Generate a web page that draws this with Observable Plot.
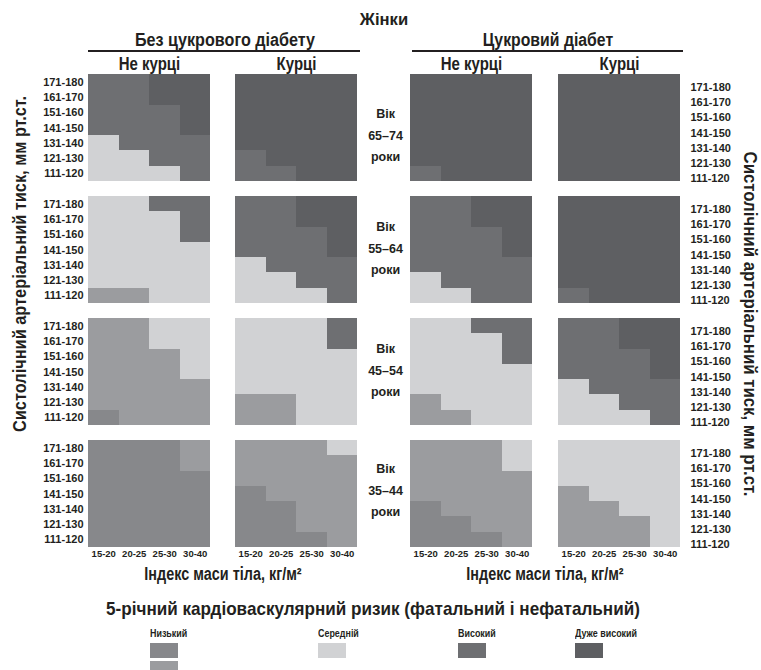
<!DOCTYPE html>
<html><head><meta charset="utf-8">
<script src="https://cdn.jsdelivr.net/npm/d3@7"></script>
<script src="https://cdn.jsdelivr.net/npm/@observablehq/plot@0.6"></script>
<style>
html,body{margin:0;padding:0;background:#fff;}
#root{position:relative;width:761px;height:670px;overflow:hidden;
  font-family:"Liberation Sans",Arial,sans-serif;color:#231f20;}
.abs{position:absolute;white-space:nowrap;line-height:1;}
#root svg{position:absolute;top:0;}
</style></head><body><div id="root"></div>
<script>
const FONT = '"Liberation Sans",Arial,sans-serif';
// ---- data ----
const bmiGroups = ["15-20", "20-25", "25-30", "30-40"];
const sbpGroups = ["171-180", "161-170", "151-160", "141-150", "131-140", "121-130", "111-120"];
const ageGroups = ["65–74", "55–64", "45–54", "35–44"];
const smokingGroups = ["Не курці", "Курці"];
const diabetesGroups = ["Без цукрового діабету", "Цукровий діабет"];
// risk codes: 1 = low (darker), 2 = low (lighter), M = medium, H = high, V = very high
const riskCodes = ["1", "2", "M", "H", "V"];
const riskColors = ["#87888b", "#9b9c9f", "#d1d2d4", "#6e6f72", "#5e5f62"];
const riskLabels = ["Низький", "Середній", "Високий", "Дуже високий"];
const legendTitle = "5-річний кардіоваскулярний ризик (фатальний і нефатальний)";
const sexTitle = "Жінки";
const xTitle = "Індекс маси тіла, кг/м²";
const yTitle = "Систолічний артеріальний тиск, мм рт.ст.";

// each age group: SBP rows top→bottom, one char per BMI column
const noDiabNonSmoker = [
  ["HHVV","HHVV","HHHV","HHHV","MHHH","MMHH","MMMH"],
  ["MMHH","MMMH","MMMH","MMMM","MMMM","MMMM","22MM"],
  ["22MM","22MM","222M","222M","2222","2222","1222"],
  ["1112","1112","1111","1111","1111","1111","1111"]
];
const noDiabSmoker = [
  ["VVVV","VVVV","VVVV","VVVV","VVVV","HVVV","HHVV"],
  ["HHVV","HHVV","HHHV","HHHV","MHHH","MMHH","MMMH"],
  ["MMMH","MMMH","MMMM","MMMM","MMMM","22MM","22MM"],
  ["222M","2222","2222","1222","1122","1122","1112"]
];
const diabNonSmoker = [
  ["VVVV","VVVV","VVVV","VVVV","VVVV","VVVV","HVVV"],
  ["HHVV","HHVV","HHHV","HHHV","HHHH","MHHH","MMHH"],
  ["MMHH","MMMH","MMMH","MMMM","MMMM","2MMM","22MM"],
  ["222M","222M","2222","2222","1222","1122","1112"]
];
const diabSmoker = [
  ["VVVV","VVVV","VVVV","VVVV","VVVV","VVVV","VVVV"],
  ["VVVV","VVVV","VVVV","VVVV","VVVV","VVVV","HVVV"],
  ["HHVV","HHVV","HHHV","HHHV","MHHH","MMHH","MMMH"],
  ["MMMM","MMMM","MMMM","2MMM","22MM","222M","222M"]
];

function toCells(grid, smoke) {
  const out = [];
  grid.forEach((rows, ai) => rows.forEach((s, si) => [...s].forEach((c, bi) =>
    out.push({age: ageGroups[ai], sbp: sbpGroups[si], bmi: bmiGroups[bi], smoke, risk: c}))));
  return out;
}
const cellsNoDiab = [...toCells(noDiabNonSmoker, smokingGroups[0]), ...toCells(noDiabSmoker, smokingGroups[1])];
const cellsDiab = [...toCells(diabNonSmoker, smokingGroups[0]), ...toCells(diabSmoker, smokingGroups[1])];

const root = document.getElementById("root");

function panel({cells, width, marginLeft, marginRight, fxInner, yAnchor, yPad, yDy, extra = []}) {
  return Plot.plot({
    width, height: 578,
    marginTop: 74, marginBottom: 31, marginLeft, marginRight,
    style: {background: "transparent", overflow: "visible", fontFamily: FONT, color: "#231f20"},
    x: {domain: bmiGroups, padding: 0, round: false},
    y: {domain: sbpGroups, padding: 0, round: false},
    fx: {domain: smokingGroups, paddingInner: fxInner, paddingOuter: 0, round: false, axis: null},
    fy: {domain: ageGroups, paddingInner: 0.123, paddingOuter: 0, round: false, axis: null},
    color: {type: "ordinal", domain: riskCodes, range: riskColors},
    marks: [
      Plot.cell(cells, {x: "bmi", y: "sbp", fx: "smoke", fy: "age", fill: "risk", inset: 0,
        shapeRendering: "crispEdges"}),
      Plot.axisX({anchor: "bottom", tickSize: 0, tickPadding: 3, fontSize: 9.5, fontWeight: "bold", label: null}),
      Plot.axisY({anchor: yAnchor, tickSize: 0, tickPadding: yPad, dy: yDy, fontSize: 11, fontWeight: "bold", label: null}),
      Plot.text(smokingGroups, {fx: d => d, fy: () => ageGroups[0], text: d => d, frameAnchor: "top", dy: -18,
        fontSize: 18.5, fontWeight: "bold"}),
      ...extra
    ]
  });
}

const ageText = (data, dy) => Plot.text(data, {fx: () => smokingGroups[1], fy: d => d, text: d => `Вік\n${d}\nроки`,
  frameAnchor: "right", dx: 28, dy, textAnchor: "middle", lineHeight: 1.72, fontSize: 12.5, fontWeight: "bold"});

const left = panel({
  cells: cellsNoDiab, width: 410, marginLeft: 88, marginRight: 53, fxInner: 25 / 147,
  yAnchor: "left", yPad: 5, yDy: 0,
  extra: [ageText(ageGroups.slice(0, 1), 5), ageText(ageGroups.slice(1, 3), -4), ageText(ageGroups.slice(3), -6)]
});
left.style.left = "0px";
root.appendChild(left);

const right = panel({
  cells: cellsDiab, width: 351, marginLeft: 0, marginRight: 81, fxInner: 26 / 148,
  yAnchor: "right", yPad: 10, yDy: 5
});
right.style.left = "410px";
root.appendChild(right);

// condense the smoking-status facet labels (condensed typeface in the original)
for (const svg of [left, right]) {
  for (const t of svg.querySelectorAll("text")) {
    if (smokingGroups.includes(t.textContent)) {
      const w = t.getComputedTextLength();
      t.setAttribute("textLength", (w * 0.81).toFixed(1));
      t.setAttribute("lengthAdjust", "spacingAndGlyphs");
    }
  }
}

function label(text, x, y, css = {}, targetWidth = null, rot = 0) {
  const d = document.createElement("div");
  d.className = "abs";
  d.textContent = text;
  d.style.left = x + "px";
  d.style.top = y + "px";
  Object.assign(d.style, css);
  root.appendChild(d);
  const k = targetWidth ? targetWidth / d.offsetWidth : 1;
  d.style.transform = "translate(-50%,-50%)" + (rot ? ` rotate(${rot}deg)` : "") + ` scaleX(${k})`;
  return d;
}
function rule(x, y, w) {
  const d = document.createElement("div");
  d.className = "abs";
  Object.assign(d.style, {left: x + "px", top: y + "px", width: w + "px", height: "2px", background: "#231f20"});
  root.appendChild(d);
}

const B = {fontWeight: "bold"};
label(sexTitle, 384, 19, {...B, fontSize: "17px"}, 48);
label(diabetesGroups[0], 225, 41, {...B, fontSize: "17.5px"}, 180);
label(diabetesGroups[1], 548, 41, {...B, fontSize: "17.5px"}, 130);
rule(88, 50, 272);
rule(412, 50, 271);
label(xTitle, 223, 574, {...B, fontSize: "18px"}, 157);
label(xTitle, 545, 574, {...B, fontSize: "18px"}, 157);
label(yTitle, 20, 264, {...B, fontSize: "18px"}, 336, -90);
label(yTitle, 750, 324, {...B, fontSize: "18px"}, 345, 90);

// legend
label(legendTitle, 373, 609, {...B, fontSize: "18.5px"}, 534);
const legendItems = [
  {name: riskLabels[0], x: 150, codes: ["1", "2"]},
  {name: riskLabels[1], x: 318, codes: ["M"]},
  {name: riskLabels[2], x: 458, codes: ["H"]},
  {name: riskLabels[3], x: 575, codes: ["V"]}
];
for (const it of legendItems) {
  const t = document.createElement("div");
  t.className = "abs";
  t.textContent = it.name;
  Object.assign(t.style, {left: it.x + "px", top: "628px", fontSize: "10.5px", fontWeight: "bold",
    transformOrigin: "0 50%", transform: "scaleX(0.85)"});
  root.appendChild(t);
  it.codes.forEach((c, i) => {
    const s = document.createElement("div");
    s.className = "abs";
    Object.assign(s.style, {left: it.x + "px", top: (643 + i * 18) + "px", width: "28px", height: "15px",
      background: riskColors[riskCodes.indexOf(c)]});
    root.appendChild(s);
  });
}
</script></body></html>
